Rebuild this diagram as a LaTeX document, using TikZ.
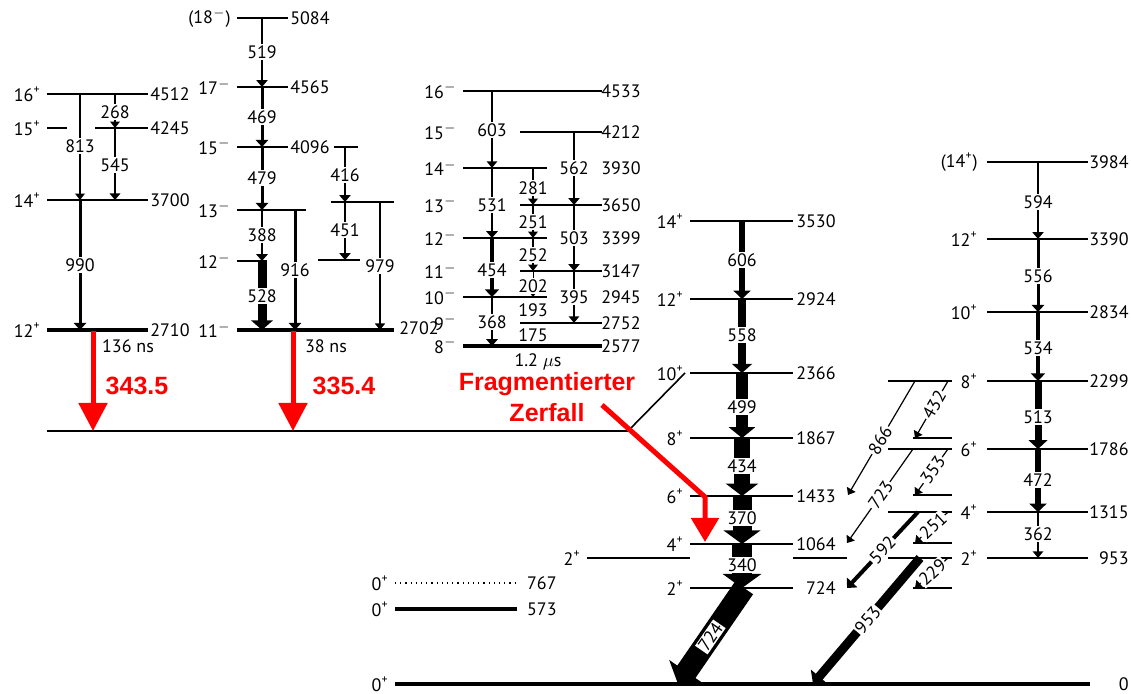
\documentclass[tikz,border=0pt]{standalone}
\usepackage{fontspec}
\setmainfont{PT Sans}
\newfontfamily\redfont{Liberation Sans}
\usetikzlibrary{arrows.meta}
\definecolor{fz}{HTML}{FF0000}
\newcommand{\jpl}[1]{#1\textsuperscript{+}}
\newcommand{\jmi}[1]{#1\textsuperscript{$-$}}
\tikzset{
  lev/.style={line width=0.8pt},
  thk/.style={line width=1.7pt},
  gnd/.style={line width=2pt},
  gam/.style={-{Triangle[length=3pt 0.4,width=4pt 1.5]}},
  glab/.style={fill=white,inner sep=0.6pt},
  jl/.style={anchor=east,inner sep=0.5pt,xshift=-2.5pt},
  el/.style={anchor=east,inner sep=0.5pt},
  rar/.style={draw=fz,line width=2.5pt,-{Triangle[length=14pt,width=14pt]}},
  rtxt/.style={text=fz,font=\redfont\bfseries\fontsize{12.5}{15.5}\selectfont,inner sep=0pt},
}
% level: [style]{x1}{x2}{y}{x spin}{spin}{energy}{x energy}
\newcommand{\lvl}[8][lev]{%
  \draw[#1] (#2,#4) -- (#3,#4);
  \node[jl] (s#3x#4) at (#5,#4) {#6};
  \node[el] (e#3x#4) at (#8,#4) {#7};}
% vertical gamma: {width}{x}{y1}{y2}{label}{y label}
\newcommand{\gam}[6]{%
  \draw[gam,line width=#1pt] (#2,#3) -- (#2,#4);
  \node[glab] (g#5) at (#2,#6) {#5};}
% sloped gamma: {width}{x1}{y1}{x2}{y2}{label}{pos}
\newcommand{\dgam}[7]{%
  \draw[gam,line width=#1pt] (#2,#3) -- node[glab,sloped,pos=#7] (d#6) {#6} (#4,#5);}

\begin{document}
\begin{tikzpicture}[x=0.5pt,y=-0.5pt,font=\fontsize{9}{10}\selectfont]
\useasboundingbox (0,0) rectangle (1131,694);

% band 1
\lvl{47}{148}{94}{47}{\jpl{16}}{4512}{191}
\draw[lev] (47,128) -- (67,128);
\lvl{95}{148}{128}{47}{\jpl{15}}{4245}{191}
\lvl{47}{148}{200}{47}{\jpl{14}}{3700}{191}
\lvl[thk]{47}{148}{330}{47}{\jpl{12}}{2710}{191}
\gam{0.6}{115}{94}{128}{268}{112}
\gam{0.6}{80}{94}{200}{813}{146}
\gam{0.9}{115}{128}{200}{545}{165}
\gam{1.5}{80}{200}{330}{990}{265}
\node (t136) at (128,346) {136 ns};

% band 2
\lvl{237}{288}{18}{237}{(\jmi{18})}{5084}{331}
\lvl{237}{288}{87}{237}{\jmi{17}}{4565}{331}
\lvl{237}{288}{147}{237}{\jmi{15}}{4096}{331}
\draw[lev] (334,147) -- (358,147);
\lvl{237}{306}{210}{237}{\jmi{13}}{}{0}
\draw[lev] (331,202) -- (394,202);
\lvl{237}{267}{261}{237}{\jmi{12}}{}{0}
\draw[lev] (318,260) -- (360,260);
\lvl[thk]{237}{394}{330}{237}{\jmi{11}}{}{0}
\node[anchor=west,inner sep=0.5pt] (e2702) at (398,328) {2702};
\gam{1}{262}{18}{87}{519}{52}
\gam{1.5}{262}{87}{147}{469}{117}
\gam{1.5}{262}{147}{210}{479}{178}
\gam{1.2}{262}{210}{261}{388}{235}
\gam{4.5}{262}{261}{330}{528}{296}
\gam{1.5}{295}{210}{330}{916}{270}
\gam{1}{345}{147}{202}{416}{175}
\gam{1}{345}{202}{260}{451}{230}
\gam{0.7}{380}{202}{330}{979}{266}
\node (t38) at (326,346) {38 ns};

% band 3
\lvl{463}{602}{91}{463}{\jmi{16}}{4533}{642}
\lvl{520}{602}{132}{463}{\jmi{15}}{4212}{642}
\lvl{463}{547}{168}{463}{\jmi{14}}{3930}{642}
\lvl{520}{602}{205}{463}{\jmi{13}}{3650}{642}
\lvl{463}{547}{238}{463}{\jmi{12}}{3399}{642}
\lvl{520}{602}{271}{463}{\jmi{11}}{3147}{642}
\lvl{463}{547}{297}{463}{\jmi{10}}{2945}{642}
\lvl{520}{602}{323}{463}{\jmi{9}}{2752}{642}
\lvl[thk]{463}{602}{346}{463}{\jmi{8}}{2577}{642}
\gam{0.8}{492}{91}{168}{603}{130}
\gam{1}{574}{132}{205}{562}{168}
\gam{0.6}{533}{168}{205}{281}{188}
\gam{1.2}{492}{168}{238}{531}{205}
\gam{0.6}{533}{205}{238}{251}{222}
\gam{1}{574}{205}{271}{503}{238}
\gam{0.6}{533}{238}{271}{252}{255}
\gam{2}{492}{238}{297}{454}{270}
\gam{0.5}{533}{271}{297}{202}{286}
\gam{0.8}{574}{271}{323}{395}{297}
\gam{1.2}{492}{297}{346}{368}{322}
\node[glab] (g193) at (533,310) {193};
\node[glab] (g175) at (533,335) {175};
\node (t12) at (538,362) {1.2 $\mu$s};

% ground band
\lvl{690}{793}{221}{690}{\jpl{14}}{3530}{837}
\lvl{690}{793}{299}{690}{\jpl{12}}{2924}{837}
\lvl{690}{793}{373}{690}{\jpl{10}}{2366}{837}
\lvl{690}{793}{438}{690}{\jpl{8}}{1867}{837}
\lvl{690}{793}{496}{690}{\jpl{6}}{1433}{837}
\lvl{690}{793}{544}{690}{\jpl{4}}{1064}{837}
\lvl{690}{793}{588}{690}{\jpl{2}}{724}{837}
\lvl{587}{690}{558}{587}{\jpl{2}}{}{0}
\draw[lev] (793,558) -- (847,558);
\gam{3}{742}{221}{299}{606}{260}
\gam{4}{742}{299}{373}{558}{335}
\gam{6}{742}{373}{438}{499}{407}
\gam{8}{742}{438}{496}{434}{466}
\gam{9.5}{742}{496}{544}{370}{518}
\gam{10}{742}{544}{588}{340}{565}
\dgam{11}{744}{588}{678}{684}{724}{0.51}

% gamma band
\lvl{987}{1088}{162}{984}{(\jpl{14})}{3984}{1130}
\lvl{987}{1088}{239}{984}{\jpl{12}}{3390}{1130}
\lvl{987}{1088}{312}{984}{\jpl{10}}{2834}{1130}
\lvl{987}{1088}{381}{984}{\jpl{8}}{2299}{1130}
\lvl{987}{1088}{449}{984}{\jpl{6}}{1786}{1130}
\lvl{987}{1088}{512}{984}{\jpl{4}}{1315}{1130}
\lvl{987}{1088}{558}{984}{\jpl{2}}{953}{1130}
\foreach \y in {381,449,512,558} \draw[lev] (888,\y) -- (952,\y);
\foreach \y in {438,495,543,588} \draw[lev] (913,\y) -- (952,\y);
\gam{1}{1038}{162}{239}{594}{202}
\gam{1.5}{1038}{239}{312}{556}{276}
\gam{2}{1038}{312}{381}{534}{348}
\gam{3.5}{1038}{381}{449}{513}{417}
\gam{3}{1038}{449}{512}{472}{480}
\gam{0.8}{1038}{512}{558}{362}{534}
\dgam{0.6}{915}{381}{848}{495}{866}{0.52}
\dgam{0.6}{913}{449}{847}{543}{723}{0.49}
\dgam{2}{918}{512}{847}{588}{592}{0.5}
\dgam{4.5}{920}{558}{813}{684}{953}{0.49}
\dgam{0.6}{948}{381}{915}{438}{432}{0.42}
\dgam{0.6}{948}{449}{915}{495}{353}{0.46}
\dgam{0.6}{948}{512}{915}{543}{251}{0.45}
\dgam{0.6}{948}{558}{915}{588}{229}{0.47}

% 0+ levels
\lvl[dotted,line width=0.6pt]{395}{517}{583}{395}{\jpl{0}}{767}{558}
\lvl[thk]{395}{517}{609}{395}{\jpl{0}}{573}{558}
\lvl[gnd]{395}{1090}{684}{395}{\jpl{0}}{0}{1130}

% isomer decays
\coordinate (base) at (47,431);
\coordinate (kink) at (628,431);
\draw[lev] (base) -- (kink) -- (s793x373.east);
\coordinate (r1a) at (93,331);
\coordinate (r1b) at (93,431);
\draw[rar] (r1a) -- (r1b);
\node[rtxt] (e343) at (137,386) {343.5};
\coordinate (r2a) at (293,331);
\coordinate (r2b) at (293,431);
\draw[rar] (r2a) -- (r2b);
\node[rtxt] (e335) at (344,386) {335.4};
\node[rtxt,align=center] (frag) at (547,397) {Fragmentierter\\Zerfall};
\coordinate (fa) at (602,405);
\coordinate (fb) at (705,497);
\coordinate (fc) at (705,542);
\draw[rar,-{Triangle[length=12pt,width=13.5pt]}] (fa) -- (fb) -- (fc);
\end{tikzpicture}
\end{document}
